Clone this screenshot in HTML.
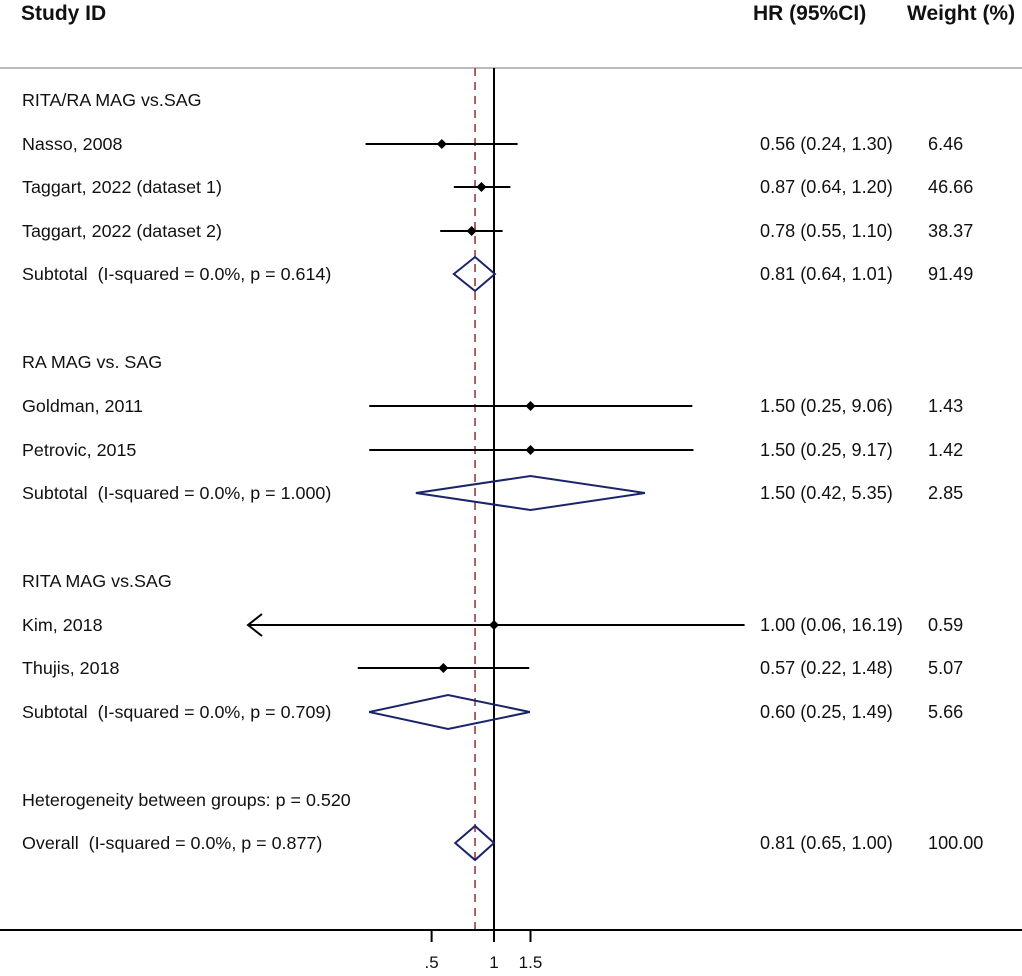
<!DOCTYPE html>
<html><head><meta charset="utf-8"><style>
html,body{margin:0;padding:0;background:#fff;}
svg{display:block;font-family:"Liberation Sans",Arial,sans-serif;}
text{white-space:pre;}
</style></head><body>
<svg id="chart" width="1022" height="976" viewBox="0 0 1022 976">
<text x="21" y="20" font-size="21" font-weight="bold" fill="#111">Study ID</text>
<text x="753" y="20" font-size="21" font-weight="bold" fill="#111">HR (95%CI)</text>
<text x="907" y="20" font-size="21" font-weight="bold" fill="#111">Weight (%)</text>
<line x1="0" y1="68" x2="1022" y2="68" stroke="#bbb" stroke-width="2"/>
<g id="plot"></g>
</svg>
<script>
const labels = ["RITA/RA MAG vs.SAG","Nasso, 2008","Taggart, 2022 (dataset 1)","Taggart, 2022 (dataset 2)","Subtotal  (I-squared = 0.0%, p = 0.614)","RA MAG vs. SAG","Goldman, 2011","Petrovic, 2015","Subtotal  (I-squared = 0.0%, p = 1.000)","RITA MAG vs.SAG","Kim, 2018","Thujis, 2018","Subtotal  (I-squared = 0.0%, p = 0.709)","Heterogeneity between groups: p = 0.520","Overall  (I-squared = 0.0%, p = 0.877)"];
const rowTypes = ["group","study","study","study","diamond","group","study","study","diamond","group","study","study","diamond","group","diamond"];
const hrValues = [null,0.56,0.87,0.78,0.81,null,1.50,1.50,1.50,null,1.00,0.57,0.60,null,0.81];
const lowerCI = [null,0.24,0.64,0.55,0.64,null,0.25,0.25,0.42,null,0.06,0.22,0.25,null,0.65];
const upperCI = [null,1.30,1.20,1.10,1.01,null,9.06,9.17,5.35,null,16.19,1.48,1.49,null,1.00];
const hrText = ["","0.56 (0.24, 1.30)","0.87 (0.64, 1.20)","0.78 (0.55, 1.10)","0.81 (0.64, 1.01)","","1.50 (0.25, 9.06)","1.50 (0.25, 9.17)","1.50 (0.42, 5.35)","","1.00 (0.06, 16.19)","0.57 (0.22, 1.48)","0.60 (0.25, 1.49)","","0.81 (0.65, 1.00)"];
const weights = ["","6.46","46.66","38.37","91.49","","1.43","1.42","2.85","","0.59","5.07","5.66","","100.00"];
const tickValues = [0.5,1,1.5];
const tickLabels = [".5","1","1.5"];
const overallHR = 0.81;
const axisMin = 0.065;

const NS="http://www.w3.org/2000/svg";
const g=document.getElementById('plot');
const xScale=v=>494+90*Math.log(v);
const rowY=[100,144,187,231,274,362,406,450,493,581,625,668,712,800,843];
function mk(tag,attrs){const e=document.createElementNS(NS,tag);for(const k in attrs)e.setAttribute(k,attrs[k]);g.appendChild(e);return e;}

let l=mk('line',{x1:xScale(1),y1:68,x2:xScale(1),y2:930,stroke:'#000','stroke-width':2});


l=mk('line',{x1:xScale(overallHR),y1:68,x2:xScale(overallHR),y2:930,stroke:'#9b3a3a','stroke-width':1.6,'stroke-dasharray':'8,6'});


l=mk('line',{x1:0,y1:930,x2:1022,y2:930,stroke:'#000','stroke-width':2});


tickValues.forEach((v,i)=>{
  const t=mk('line',{x1:xScale(v),y1:930,x2:xScale(v),y2:942,stroke:'#000','stroke-width':2});
  
  
  const tx=mk('text',{x:xScale(v),y:968,'font-size':17,'text-anchor':'middle',fill:'#111'});
  tx.textContent=tickLabels[i];
  
  
});

labels.forEach((lab,i)=>{
  const y=rowY[i];
  const t=mk('text',{x:22,y:y+6,'font-size':17.9,fill:'#111'});
  t.textContent=lab;
  
  
  if(hrText[i]){
    const h=mk('text',{x:760,y:y+6,'font-size':18.1,fill:'#111'});
    h.textContent=hrText[i];
    
    
    const w=mk('text',{x:928,y:y+6,'font-size':18.1,fill:'#111'});
    w.textContent=weights[i];
    
    
  }
  if(rowTypes[i]==='study'){
    const lo=Math.max(lowerCI[i],axisMin);
    const x1=xScale(lo),x2=xScale(upperCI[i]);
    const ci=mk('line',{x1:x1,y1:y,x2:x2,y2:y,stroke:'#000','stroke-width':2});
    
    
    if(lowerCI[i]<axisMin){
      const a=mk('polyline',{points:`${x1+14},${y-11} ${x1},${y} ${x1+14},${y+11}`,fill:'none',stroke:'#000','stroke-width':2});
      
      
    }
    const cx=xScale(hrValues[i]);
    const p=mk('polygon',{points:`${cx},${y-5} ${cx+5},${y} ${cx},${y+5} ${cx-5},${y}`,fill:'#000'});
    
    
  } else if(rowTypes[i]==='diamond'){
    const xl=xScale(lowerCI[i]),xr=xScale(upperCI[i]),xc=xScale(hrValues[i]);
    const d=mk('polygon',{points:`${xl},${y} ${xc},${y-17} ${xr},${y} ${xc},${y+17}`,fill:'none',stroke:'#1b2468','stroke-width':2});
    
    
  }
});
</script>
</body></html>
